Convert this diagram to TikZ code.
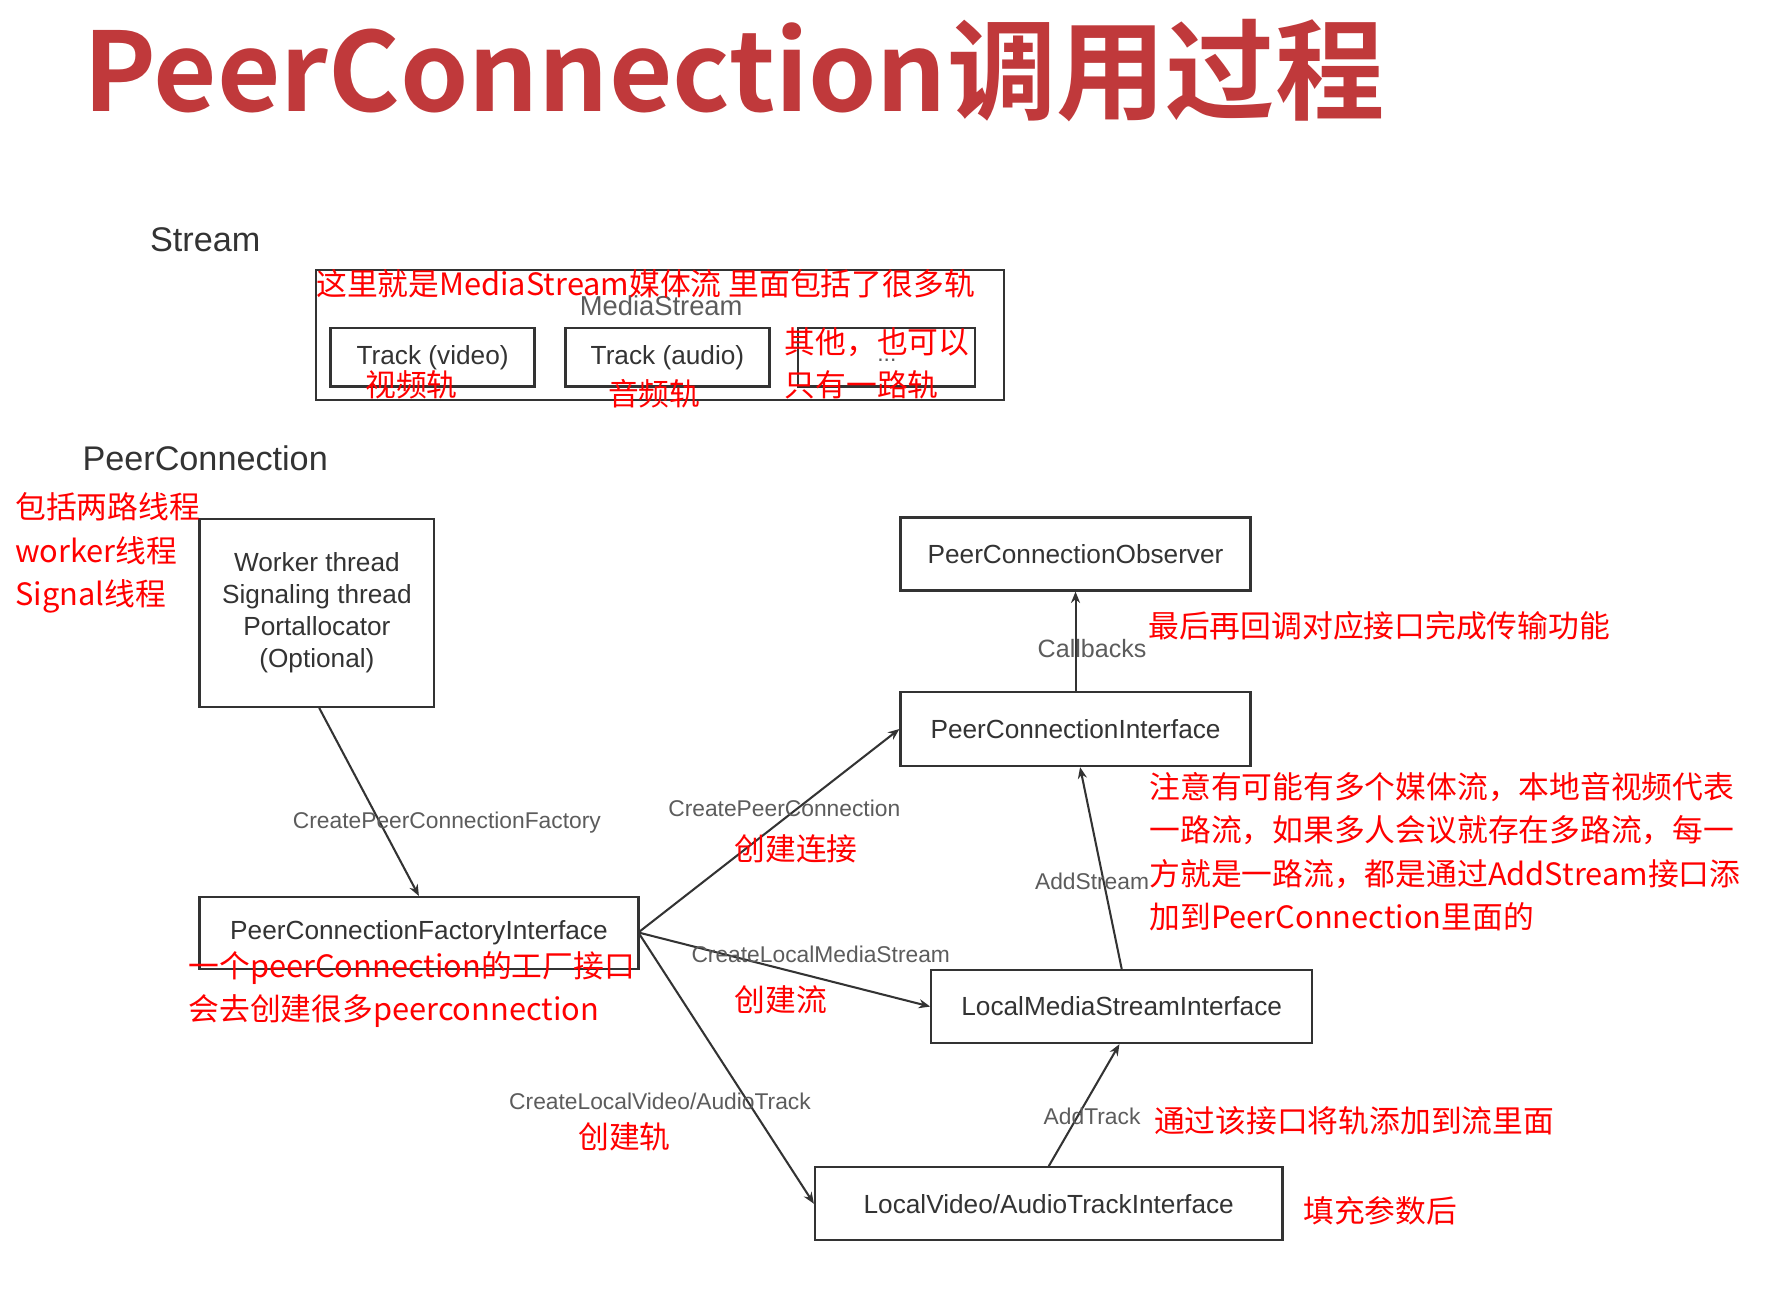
\documentclass[tikz,border=0pt]{standalone}
\usepackage{fontspec}
\setmainfont{Liberation Sans}
\newfontfamily\cjk{Noto Sans CJK SC}
\newfontfamily\cjkb{Noto Sans CJK SC Bold}
\usetikzlibrary{arrows.meta}
\definecolor{ttl}{HTML}{C0393B}
\definecolor{txt}{HTML}{333333}
\tikzset{x=0.5pt,y=-0.5pt,
 bx/.style={draw=txt,line width=1pt,inner sep=0pt,font=\fontsize{11.5}{14}\selectfont,text=txt},
 lbl/.style={font=\fontsize{10}{12}\selectfont,text=txt!80},
 red/.style={text=red,font=\cjk\fontsize{13.5}{19}\selectfont,anchor=west,inner sep=0pt},
 con/.style={draw=txt,line width=0.9pt,-{Stealth[length=5pt,width=4pt]}},
 hd/.style={font=\fontsize{15}{18}\selectfont,text=txt}}
\begin{document}
\begin{tikzpicture}
\useasboundingbox[fill=white] (0,0) rectangle (1565,1150);
\node[text=ttl,font=\cjkb\fontsize{48}{52}\selectfont,anchor=west] (title) at (66,62) {PeerConnection调用过程};
\node[hd] (stream) at (180,210) {Stream};
\node[hd] (pc) at (180,402) {PeerConnection};
% media stream
\node[bx,minimum width=302pt,minimum height=57pt] (ms) at (579,294) {};
\node[lbl,font=\fontsize{12}{14}\selectfont] (mslbl) at (580,268) {MediaStream};
\node[bx,minimum width=89.5pt,minimum height=25.5pt] (tv) at (379.5,313.5) {Track (video)};
\node[bx,minimum width=89.5pt,minimum height=25.5pt] (ta) at (585.5,313.5) {Track (audio)};
\node[bx,minimum width=77.5pt,minimum height=25.5pt] (tx) at (777.5,313.5) {};
\node[lbl] (dots) at (778,316) {...};
\node[red] (r1) at (277,249) {这里就是MediaStream媒体流 里面包括了很多轨};
\node[red] (r2) at (320,338) {视频轨};
\node[red] (r3) at (533,345) {音频轨};
\node[red] (r4) at (688,300) {其他，也可以};
\node[red] (r5) at (688,338) {只有一路轨};
% boxes
\node[bx,minimum width=103pt,minimum height=82.5pt,align=center] (wk) at (278,537.5) {Worker thread\\Signaling thread\\Portallocator\\(Optional)};
\node[red,align=left] (r6) at (13,485) {包括两路线程\\worker线程\\Signal线程};
\node[bx,minimum width=153.5pt,minimum height=32pt] (obs) at (943.5,486) {PeerConnectionObserver};
\node[bx,minimum width=153.5pt,minimum height=32.5pt] (pci) at (943.5,639.5) {PeerConnectionInterface};
\node[bx,minimum width=192.5pt,minimum height=31.5pt] (fac) at (367.5,818.5) {PeerConnectionFactoryInterface};
\node[bx,minimum width=167pt,minimum height=32pt] (lms) at (984,883) {LocalMediaStreamInterface};
\node[bx,minimum width=205pt,minimum height=32pt] (trk) at (920,1056) {LocalVideo/AudioTrackInterface};
% connectors
\draw[con] (wk.south) ++(2,0) coordinate (w0) -- (fac.north);
\coordinate (f0) at (560,818);
\draw[con] (f0) -- (pci.west);
\draw[con] (f0) -- (lms.west);
\draw[con] (f0) -- (trk.west);
\draw[con] (pci.north) -- (obs.south);
\draw[con] (lms.north) -- ([xshift=2pt]pci.south);
\draw[con] (trk.north) -- ([xshift=-1pt]lms.south);
% labels
\node[lbl] (l1) at (392,722) {CreatePeerConnectionFactory};
\node[lbl] (l2) at (688,709) {CreatePeerConnection};
\node[lbl] (l3) at (720,837) {CreateLocalMediaStream};
\node[lbl] (l4) at (579,966) {CreateLocalVideo/AudioTrack};
\node[lbl,font=\fontsize{11}{13}\selectfont] (l5) at (958,569) {Callbacks};
\node[lbl] (l6) at (958,773) {AddStream};
\node[lbl] (l7) at (958,979) {AddTrack};
\node[red] (r7) at (644,745) {创建连接};
\node[red] (r8) at (644,877) {创建流};
\node[red] (r9) at (507,997) {创建轨};
\node[red] (r10) at (1007,549) {最后再回调对应接口完成传输功能};
\node[red,align=left] (r11) at (1008,747) {注意有可能有多个媒体流，本地音视频代表\\一路流，如果多人会议就存在多路流，每一\\方就是一路流，都是通过AddStream接口添\\加到PeerConnection里面的};
\node[red,align=left] (r12) at (165,868) {一个peerConnection的工厂接口\\会去创建很多peerconnection};
\node[red] (r13) at (1012,983) {通过该接口将轨添加到流里面};
\node[red] (r14) at (1143,1062) {填充参数后};
\end{tikzpicture}
\end{document}
